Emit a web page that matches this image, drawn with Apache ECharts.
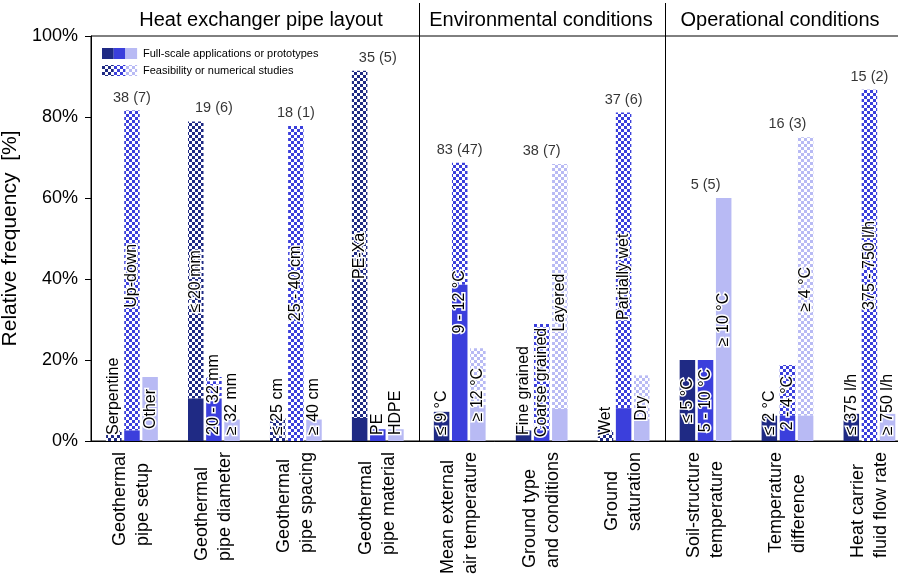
<!DOCTYPE html>
<html><head><meta charset="utf-8">
<script src="https://cdn.jsdelivr.net/npm/echarts@6/dist/echarts.min.js"></script>
<style>html,body{margin:0;padding:0;background:#fff}#c{width:898px;height:581px}</style>
</head><body><div id="c"></div>
<script>
// ---------------- data ----------------
const categories = ['Geothermal\npipe setup', 'Geothermal\npipe diameter', 'Geothermal\npipe spacing', 'Geothermal\npipe material',
  'Mean external\nair temperature', 'Ground type\nand conditions', 'Ground\nsaturation',
  'Soil-structure\ntemperature', 'Temperature\ndifference', 'Heat carrier\nfluid flow rate'];
const groupTotals = ['38 (7)', '19 (6)', '18 (1)', '35 (5)', '83 (47)', '38 (7)', '37 (6)', '5 (5)', '16 (3)', '15 (2)'];
const sectionTitles = ['Heat exchanger pipe layout', 'Environmental conditions', 'Operational conditions'];
const sectionSizes = [4, 3, 3];
const legendNames = ['Full-scale applications or prototypes', 'Feasibility or numerical studies'];

const labelsA = ['Serpentine', '≤ 20 mm', '≤ 25 cm', 'PE-Xa', '≤ 9 °C', 'Fine grained', 'Wet', '≤ 5 °C', '≤ 2 °C', '≤ 375 l/h'];
const labelsB = ['Up-down', '20 - 32 mm', '25 - 40 cm', 'PE', '9 - 12 °C', 'Coarse grained', 'Partially wet', '5 - 10 °C', '2 - 4 °C', '375 - 750 l/h'];
const labelsC = ['Other', '≥ 32 mm', '≥ 40 cm', 'HDPE', '≥ 12 °C', 'Layered', 'Dry', '≥ 10 °C', '≥ 4 °C', '≥ 750 l/h'];

// percentages: full-scale (solid) and feasibility (checkered) parts
const fullA = [0, 10.5, 0, 5.7, 7.2, 2.6, 0, 20, 6.25, 6.7];
const feasA = [2.6, 68.4, 5.6, 85.7, 0, 0, 2.7, 0, 0, 0];
const fullB = [2.6, 10.5, 0, 2.9, 38.6, 2.6, 8.1, 20, 6.25, 0];
const feasB = [79.0, 5.3, 77.8, 0, 30.1, 26.3, 73.0, 0, 12.5, 86.7];
const fullC = [15.8, 5.3, 5.3, 2.9, 8.4, 7.9, 5.4, 60, 6.25, 6.7];
const feasC = [0, 0, 0, 0, 14.5, 60.5, 10.8, 0, 68.75, 0];

// ---------------- styling ----------------
const FONT = '"Liberation Sans", Arial, Helvetica, sans-serif';
const NAVY = '#1f2a84', BLUE = '#3b3fdc', LAV = '#b8baf4';
function checker(color) {
  const c = document.createElement('canvas');
  c.width = 6; c.height = 6;
  const g = c.getContext('2d');
  g.fillStyle = '#ffffff'; g.fillRect(0, 0, 6, 6);
  g.fillStyle = color; g.fillRect(0, 0, 3, 3); g.fillRect(3, 3, 3, 3);
  return c;
}
const stacks = [
  { id: 'a', full: fullA, feas: feasA, labels: labelsA, color: NAVY },
  { id: 'b', full: fullB, feas: feasB, labels: labelsB, color: BLUE },
  { id: 'c', full: fullC, feas: feasC, labels: labelsC, color: LAV }
];
stacks.forEach(s => { s.total = s.full.map((v, i) => +(v + s.feas[i]).toFixed(2)); s.pattern = checker(s.color); });
const groupMax = categories.map((_, i) => Math.max(...stacks.map(s => s.total[i])));

const BW = 15.5, GAP = '17%';
const series = [];
stacks.forEach(s => {
  series.push({ type: 'bar', name: legendNames[0], stack: s.id, xAxisIndex: 0, yAxisIndex: 0,
    barWidth: BW, barGap: GAP, data: s.full, itemStyle: { color: s.color }, z: 3, silent: true });
  series.push({ type: 'bar', name: legendNames[1], stack: s.id, xAxisIndex: 0, yAxisIndex: 0,
    barWidth: BW, barGap: GAP, data: s.feas, itemStyle: { color: { image: s.pattern, repeat: 'repeat' } }, z: 2, silent: true });
});
const labelSeriesStart = series.length;
stacks.forEach(s => {
  series.push({ type: 'bar', xAxisIndex: 1, yAxisIndex: 0, barWidth: BW, barGap: GAP,
    data: s.total.slice(), itemStyle: { color: 'rgba(0,0,0,0)' }, z: 10, silent: true,
    label: { show: true, rotate: 90, position: 'inside', fontFamily: FONT, fontSize: 16, color: '#000',
      textBorderColor: '#fff', textBorderWidth: 3,
      formatter: p => s.labels[p.dataIndex] } });
});
series.push({ type: 'scatter', xAxisIndex: 0, yAxisIndex: 0, data: groupMax, symbolSize: 1,
  itemStyle: { color: 'rgba(0,0,0,0)' }, silent: true, z: 12,
  label: { show: true, position: 'top', distance: 5, fontFamily: FONT, fontSize: 14.5, color: '#000',
    formatter: p => groupTotals[p.dataIndex] } });

const chart = echarts.init(document.getElementById('c'), null, { renderer: 'canvas' });
const xCommon = { type: 'category', data: categories, boundaryGap: true };
chart.setOption({
  animation: false,
  backgroundColor: '#fff',
  textStyle: { fontFamily: FONT, color: '#000' },
  grid: { left: 91, width: 819.4, top: 36, bottom: 140, show: true, borderColor: '#000', borderWidth: 1,
    containLabel: false, outerBoundsMode: 'none' },
  xAxis: [
    Object.assign({}, xCommon, {
      position: 'bottom',
      axisLine: { lineStyle: { color: '#000', width: 1 } },
      axisTick: { show: false },
      splitLine: { show: false },
      axisLabel: { interval: 0, rotate: 90, margin: 11, color: '#000',
        formatter: v => v.split('\n').map(t => '{a|' + t + '}').join('\n'),
        rich: { a: { align: 'left', fontFamily: FONT, fontSize: 18, lineHeight: 23, color: '#000' } } }
    }),
    Object.assign({}, xCommon, { show: false })
  ],
  yAxis: {
    type: 'value', min: 0, max: 100, interval: 20,
    name: 'Relative frequency  [%]', nameLocation: 'middle', nameGap: 59, nameRotate: 90,
    nameTextStyle: { fontFamily: FONT, fontSize: 21, color: '#000' },
    axisLine: { show: true, lineStyle: { color: '#000', width: 1 } },
    axisTick: { show: true, inside: false, length: 6, lineStyle: { color: '#000' } },
    splitLine: { show: false },
    axisLabel: { formatter: '{value}%', fontFamily: FONT, fontSize: 18, color: '#000', margin: 13 }
  },
  series: series
});

// ---------- label placement (centred if it fits, else anchored at the bar base) ----------
const mctx = document.createElement('canvas').getContext('2d');
mctx.font = '16px "Liberation Sans"';
const y0 = chart.convertToPixel({ yAxisIndex: 0 }, 0);
const upd = stacks.map((s, k) => ({
  data: s.total.map((v, i) => {
    const h = y0 - chart.convertToPixel({ yAxisIndex: 0 }, v);
    const w = mctx.measureText(s.labels[i]).width;
    if (h >= w + 6) return { value: v, label: { position: 'inside', align: 'center', verticalAlign: 'middle' } };
    return { value: v, label: { position: 'insideBottom', align: 'left', verticalAlign: 'middle', distance: 6 } };
  })
}));
const seriesUpd = series.map(() => ({}));
upd.forEach((u, k) => { seriesUpd[labelSeriesStart + k] = u; });

// ---------- section separators, titles, legend ----------
const xPix = i => chart.convertToPixel({ xAxisIndex: 0 }, i);
const graphics = [];
let idx = 0;
sectionSizes.forEach((n, k) => {
  const last = idx + n - 1;
  idx += n;
  if (k < sectionSizes.length - 1) {
    const xb = Math.round((xPix(last) + xPix(last + 1)) / 2) + 0.5;
    graphics.push({ type: 'line', shape: { x1: xb, y1: 3, x2: xb, y2: y0 }, style: { stroke: '#000', lineWidth: 1 }, z: 20 });
  }
});
const titleX = [261, 541, 780];
sectionTitles.forEach((t, k) => {
  graphics.push({ type: 'text', x: titleX[k], y: 20, style: { text: t, font: '20px ' + FONT, fill: '#000', textAlign: 'center', textVerticalAlign: 'middle' }, z: 20 });
});
const cols = [NAVY, BLUE, LAV];
const legendChildren = [];
cols.forEach((c, k) => {
  legendChildren.push({ type: 'rect', shape: { x: k * 11.7, y: 0, width: 11.7, height: 11 }, style: { fill: c } });
  legendChildren.push({ type: 'rect', shape: { x: k * 11.7, y: 17, width: 11.7, height: 11 }, style: { fill: { image: stacks[k].pattern, repeat: 'repeat' } } });
});
legendNames.forEach((n, k) => {
  legendChildren.push({ type: 'text', x: 41, y: 5.5 + k * 17, style: { text: n, font: '11px ' + FONT, fill: '#000', textVerticalAlign: 'middle' } });
});
graphics.push({ type: 'group', x: 102, y: 48, children: legendChildren, z: 20 });

chart.setOption({ series: seriesUpd, graphic: graphics });
</script>
</body></html>
